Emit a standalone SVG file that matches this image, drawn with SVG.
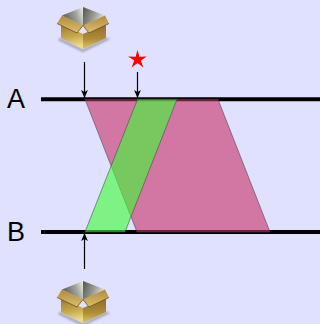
<svg xmlns="http://www.w3.org/2000/svg" width="320" height="324" viewBox="0 0 320 324">
<style>
.lbl{font-family:"Liberation Sans",Arial,sans-serif;font-size:27px;fill:#000}
.track{stroke:#000;stroke-width:4;fill:none}
.arr{stroke:#000;stroke-width:1.2;fill:none}
.pink{fill:#c82f66;fill-opacity:.6;stroke:#444;stroke-opacity:.7;stroke-width:.8}
.green{fill:#3cff34;fill-opacity:.6;stroke:#444;stroke-opacity:.7;stroke-width:.8}
</style>
<defs>
<filter id="soft" x="-10%" y="-10%" width="120%" height="120%"><feGaussianBlur stdDeviation="0.8"/></filter>
<marker id="head" viewBox="0 0 8 8" refX="8" refY="4" markerWidth="8" markerHeight="8" markerUnits="userSpaceOnUse" orient="auto"><path d="M0 0.600L8 4L0 7.400L2 4Z" fill="#000"/></marker>
<linearGradient id="capL" x1="0" y1="0.300" x2="1" y2="0"><stop offset="0" stop-color="#5f5f5b"/><stop offset=".6" stop-color="#a5a5a0"/><stop offset="1" stop-color="#efefea"/></linearGradient>
<linearGradient id="capR" x1="0" y1="0" x2="1" y2="0.300"><stop offset="0" stop-color="#55554f"/><stop offset=".6" stop-color="#a0a09a"/><stop offset="1" stop-color="#dcdcd6"/></linearGradient>
<linearGradient id="sideL" x1="0" y1="0" x2="0.200" y2="1"><stop offset="0" stop-color="#9a752c"/><stop offset=".6" stop-color="#c9a94f"/><stop offset="1" stop-color="#ecdc8c"/></linearGradient>
<linearGradient id="sideR" x1="0" y1="0" x2="0" y2="1"><stop offset="0" stop-color="#8e6a28"/><stop offset=".6" stop-color="#b08d3a"/><stop offset="1" stop-color="#dcc766"/></linearGradient>
<linearGradient id="flap" x1="0" y1="0" x2="0" y2="1"><stop offset="0" stop-color="#b08a3e"/><stop offset="1" stop-color="#dcbf6e"/></linearGradient>
<g id="box">
<path d="M60 38L83 49.500L106 38L110 39L83 52L58 40Z" fill="#666" opacity=".55" filter="url(#soft)"/>
<path d="M61 24L83 34V49L61 38Z" fill="url(#sideL)"/>
<path d="M83 34L106 24V38L83 49Z" fill="url(#sideR)"/>
<path d="M83 7L62 15.500L83 26Z" fill="url(#capL)"/>
<path d="M83 7L105 15.500L83 26Z" fill="url(#capR)"/>
<path d="M62 15.500L57 23.500L77 33L83 25.500Z" fill="url(#flap)"/>
<path d="M105 15.500L109 23.500L89 33L83 25.500Z" fill="url(#flap)"/>
<path d="M57 23.500L77 33L83 25.500L89 33L109 23.500" fill="none" stroke="#6b4f1c" stroke-width=".8"/>
</g>
</defs>
<rect width="320" height="324" fill="#e0e0ff"/>
<g id="connectors">
<line class="track" x1="41" y1="99.300" x2="320" y2="99.300"/>
<line class="track" x1="41" y1="232" x2="320" y2="232"/>
<line class="arr" x1="84.500" y1="62" x2="84.500" y2="98" marker-end="url(#head)"/>
<line class="arr" x1="137.500" y1="72" x2="137.500" y2="98" marker-end="url(#head)"/>
<line class="arr" x1="84.500" y1="269" x2="84.500" y2="233" marker-end="url(#head)"/>
</g>
<g id="pink-region"><polygon class="pink" points="85,99.300 218,99.300 270,232 137,232"/></g>
<g id="green-region"><polygon class="green" points="137.500,99.300 177,99.300 125,232 85,232"/></g>
<g id="star"><polygon fill="#ff0000" points="137.500,50 139.400,56.800 146.800,56.600 140.800,60.600 143.300,67.400 137.500,63 131.700,67.400 134.200,60.600 128.200,56.600 135.600,56.800"/></g>
<g id="box-top"><use href="#box"/></g>
<g id="box-bottom"><use href="#box" y="274"/></g>
<g id="label-a"><text class="lbl" x="7" y="108">A</text></g>
<g id="label-b"><text class="lbl" x="7" y="241">B</text></g>
</svg>
